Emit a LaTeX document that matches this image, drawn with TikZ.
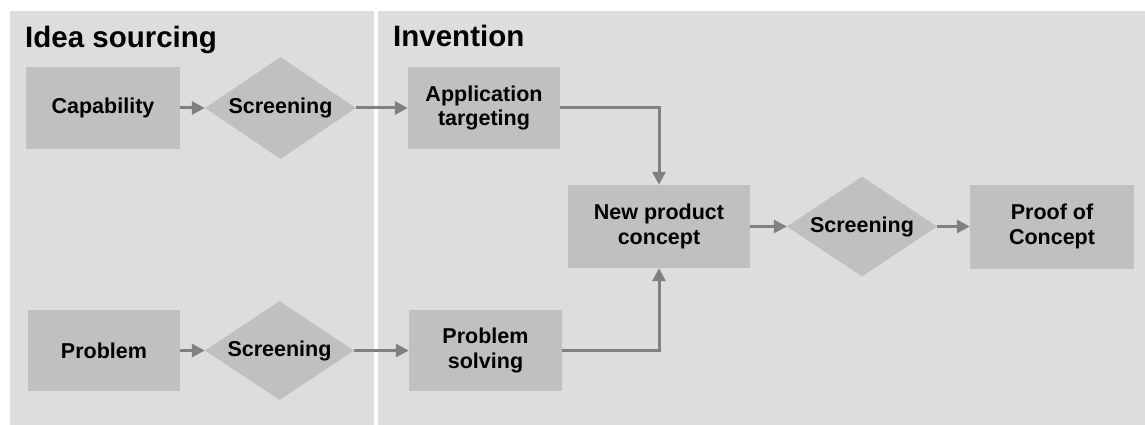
\documentclass[tikz,border=0pt]{standalone}
\usepackage{fontspec}
\setmainfont{Liberation Sans}
\usetikzlibrary{shapes.geometric,arrows.meta}
\definecolor{panelbg}{HTML}{DDDDDD}
\definecolor{boxfill}{HTML}{C0C0C0}
\definecolor{arrowgray}{HTML}{808080}
\begin{document}
\begin{tikzpicture}[x=1pt,y=-1pt,
  boxnode/.style={rectangle, fill=boxfill, inner sep=0pt, align=center,
    font=\bfseries\fontsize{21.5}{24.5}\selectfont},
  screennode/.style={diamond, fill=boxfill, inner sep=0pt, aspect=1.48,
    minimum width=151pt, minimum height=102pt,
    font=\bfseries\fontsize{21.5}{24.5}\selectfont},
  flow/.style={draw=arrowgray, line width=3pt,
    -{Triangle[length=13pt,width=13pt]}},
  paneltitle/.style={anchor=base west, inner sep=0pt,
    font=\bfseries\fontsize{29.5}{32}\selectfont}
]
\useasboundingbox (0,0) rectangle (1145,425);
\fill[white] (0,0) rectangle (1145,425);
% panels
\fill[panelbg] (10,11) rectangle (374,425);
\fill[panelbg] (378,11) rectangle (1145,425);
\node[paneltitle] (t1) at (25,48) {Idea sourcing};
\node[paneltitle] (t2) at (393,47) {Invention};
% nodes
\node[boxnode, minimum width=154pt, minimum height=82pt] (capab) at (103,108) {Capability};
\node[screennode] (scr1) at (280.5,108) {Screening};
\node[boxnode, minimum width=152pt, minimum height=82pt] (app) at (484,108) {Application\\targeting};
\node[boxnode, minimum width=182pt, minimum height=83pt] (npc) at (659,226.5) {New product\\concept};
\node[screennode, minimum width=150pt, minimum height=100pt] (scr2) at (862,226.5) {Screening};
\node[boxnode, minimum width=164pt, minimum height=84pt] (poc) at (1052,226.5) {Proof of\\Concept};
\node[boxnode, minimum width=152pt, minimum height=81pt] (prob) at (104,350.5) {Problem};
\node[screennode, minimum width=149pt, minimum height=99pt] (scr3) at (279.5,350.5) {Screening};
\node[boxnode, minimum width=153pt, minimum height=81pt] (ps) at (485.5,350.5) {Problem\\solving};
% connectors
\draw[flow] (capab.east) -- (scr1.west);
\draw[flow] (scr1.east) -- (app.west);
\draw[flow] (app.east) -| (npc.north);
\draw[flow] (npc.east) -- (scr2.west);
\draw[flow] (scr2.east) -- (poc.west);
\draw[flow] (prob.east) -- (scr3.west);
\draw[flow] (scr3.east) -- (ps.west);
\draw[flow] (ps.east) -| (npc.south);
\end{tikzpicture}
\end{document}
